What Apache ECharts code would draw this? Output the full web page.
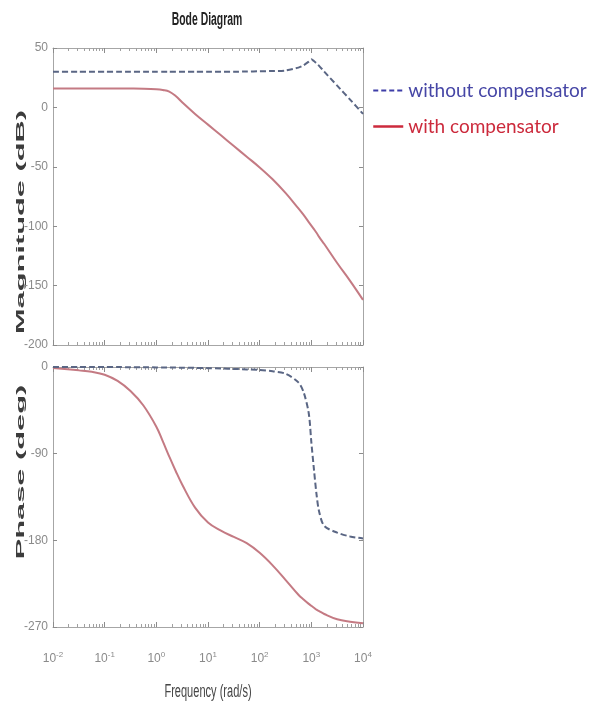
<!DOCTYPE html>
<html><head><meta charset="utf-8">
<script src="https://cdn.jsdelivr.net/npm/echarts@6/dist/echarts.min.js"></script>
<style>html,body{margin:0;padding:0;background:#fff}#c{width:598px;height:708px}</style>
</head><body><div id="c"></div>
<script>
const freq = [0.01, 0.0316, 0.0562, 0.1, 0.178, 0.316, 0.562, 1, 1.33, 1.78, 2.37, 3.16, 5.62, 10, 17.8, 31.6, 56.2, 100, 178, 316, 562, 708, 891, 1000, 1122, 1259, 1413, 1778, 3162, 5623, 10000];
// Magnitude (dB)
const magWithout = [30, 30, 30, 30, 30, 30, 30, 30, 30, 30, 30, 30, 30, 30, 30, 30, 30.2, 30.4, 30.6, 31, 33.5, 35.5, 38.5, 40.5, 39, 37, 35, 30.1, 18.3, 6.6, -5.5];
const magWith = [16, 16, 16, 16, 16, 15.9, 15.7, 15.2, 14.6, 13.3, 9.6, 4.3, -5.5, -14.5, -23.5, -32.5, -41.5, -50.5, -60.5, -72, -85, -90.5, -96.5, -99.5, -102.5, -105.5, -109, -115, -131, -146, -162];
// Phase (deg)
const phaseWithout = [0, 0, 0, -0.1, -0.1, -0.2, -0.3, -0.4, -0.4, -0.5, -0.6, -0.7, -0.9, -1.2, -1.5, -2, -2.5, -3, -4.5, -7, -16, -26, -48, -78, -106, -132, -150, -165, -172, -176, -178];
const phaseWith = [-1, -3.5, -5, -8, -14.5, -25, -40, -62, -77, -93, -108, -122, -146, -161.5, -170, -176.5, -183, -193, -206, -221, -236.5, -241.5, -246, -248, -250, -252, -253.5, -256.5, -262, -264.5, -266];
// Axis ranges / ticks
const freqRange = [0.01, 10000];
const magRange = [-200, 50], magStep = 50;
const phaseRange = [-270, 0], phaseStep = 90;
const seriesNames = ['without compensator', 'with compensator'];
const titleText = 'Bode Diagram';
const magLabel = 'Magnitude (dB)';
const phaseLabel = 'Phase (deg)';
const freqLabel = 'Frequency (rad/s)';

const AX = '#a6a6a6', TICK = '#8c8c8c', LBL = '#8a8a8a';
const SANS = '"Liberation Sans", Arial, sans-serif';
const grids = [
  {left: 53, top: 48, width: 310, height: 297},
  {left: 53, top: 367, width: 310, height: 260}
];
function xAx(gi, pos, showLabel) {
  return {
    type: 'log', logBase: 10, min: freqRange[0], max: freqRange[1], gridIndex: gi, position: pos,
    axisLine: {show: true, onZero: false, lineStyle: {color: AX, width: 1}},
    axisTick: {show: true, inside: true, length: 5, lineStyle: {color: TICK}},
    minorTick: {show: true, splitNumber: 9, length: 3, lineStyle: {color: '#a0a0a0'}},
    splitLine: {show: false},
    axisLabel: {
      show: showLabel, margin: 24, color: LBL,
      formatter: v => '{a|10}{b|' + Math.round(Math.log10(v)) + '}',
      rich: {
        a: {fontFamily: SANS, fontSize: 12, color: LBL},
        b: {fontFamily: SANS, fontSize: 8, color: LBL, verticalAlign: 'top', padding: [0, 0, 8, 0]}
      }
    }
  };
}
function yAx(gi, pos, range, step, showLabel) {
  return {
    type: 'value', gridIndex: gi, position: pos, min: range[0], max: range[1], interval: step,
    axisLine: {show: true, onZero: false, lineStyle: {color: AX, width: 1}},
    axisTick: {show: true, inside: true, length: 4, lineStyle: {color: TICK}},
    splitLine: {show: false},
    axisLabel: {show: showLabel, margin: 5, color: LBL, fontFamily: SANS, fontSize: 12}
  };
}
const pairs = vals => freq.map((f, i) => [f, vals[i]]);
const blueLine = {color: '#5a6684', width: 2, type: [6, 3]};
const redLine = {color: '#c47a83', width: 2};

const chart = echarts.init(document.getElementById('c'));
chart.setOption({
  animation: false,
  backgroundColor: '#fff',
  grid: grids,
  xAxis: [xAx(0, 'bottom', false), xAx(0, 'top', false), xAx(1, 'bottom', true), xAx(1, 'top', false)],
  yAxis: [yAx(0, 'left', magRange, magStep, true), yAx(0, 'right', magRange, magStep, false),
          yAx(1, 'left', phaseRange, phaseStep, true), yAx(1, 'right', phaseRange, phaseStep, false)],
  legend: {
    orient: 'vertical', left: 372, top: 81, padding: 0, itemWidth: 30, itemHeight: 14, itemGap: 17,
    selectedMode: false,
    textStyle: {fontFamily: 'Lato, "Open Sans", sans-serif', fontSize: 19},
    data: [
      {name: seriesNames[0], textStyle: {color: '#4646a6'}, lineStyle: {color: '#3e3ea8', width: 2, type: [5, 3]}, itemStyle: {opacity: 0}},
      {name: seriesNames[1], textStyle: {color: '#cc2a3c'}, lineStyle: {color: '#cc2a3c', width: 2.5, type: 'solid'}, itemStyle: {opacity: 0}}
    ]
  },
  series: [
    {name: seriesNames[0], type: 'line', xAxisIndex: 0, yAxisIndex: 0, data: pairs(magWithout), symbol: 'none', smooth: 0.2, lineStyle: blueLine, itemStyle: {color: blueLine.color}, z: 3},
    {name: seriesNames[1], type: 'line', xAxisIndex: 0, yAxisIndex: 0, data: pairs(magWith), symbol: 'none', smooth: 0.4, lineStyle: redLine, itemStyle: {color: redLine.color}, z: 2},
    {name: seriesNames[0], type: 'line', xAxisIndex: 2, yAxisIndex: 2, data: pairs(phaseWithout), symbol: 'none', smooth: 0.3, lineStyle: blueLine, itemStyle: {color: blueLine.color}, z: 3},
    {name: seriesNames[1], type: 'line', xAxisIndex: 2, yAxisIndex: 2, data: pairs(phaseWith), symbol: 'none', smooth: 0.4, lineStyle: redLine, itemStyle: {color: redLine.color}, z: 2}
  ],
  graphic: [
    {type: 'text', x: 207, y: 20, scaleX: 0.8, scaleY: 1.35, style: {text: titleText, font: 'bold 13px ' + SANS, fill: '#222', align: 'center', verticalAlign: 'middle'}},
    {type: 'text', x: 21, y: 222, rotation: Math.PI / 2, scaleX: 2.8, style: {text: magLabel, font: 'bold 11px ' + SANS, fill: '#3c3c3c', align: 'center', verticalAlign: 'middle'}},
    {type: 'text', x: 21, y: 472, rotation: Math.PI / 2, scaleX: 2.8, style: {text: phaseLabel, font: 'bold 11px ' + SANS, fill: '#3c3c3c', align: 'center', verticalAlign: 'middle'}},
    {type: 'text', x: 208, y: 692, scaleX: 0.85, scaleY: 1.4, style: {text: freqLabel, font: '13px ' + SANS, fill: '#454545', align: 'center', verticalAlign: 'middle'}}
  ]
});
</script>
</body></html>
